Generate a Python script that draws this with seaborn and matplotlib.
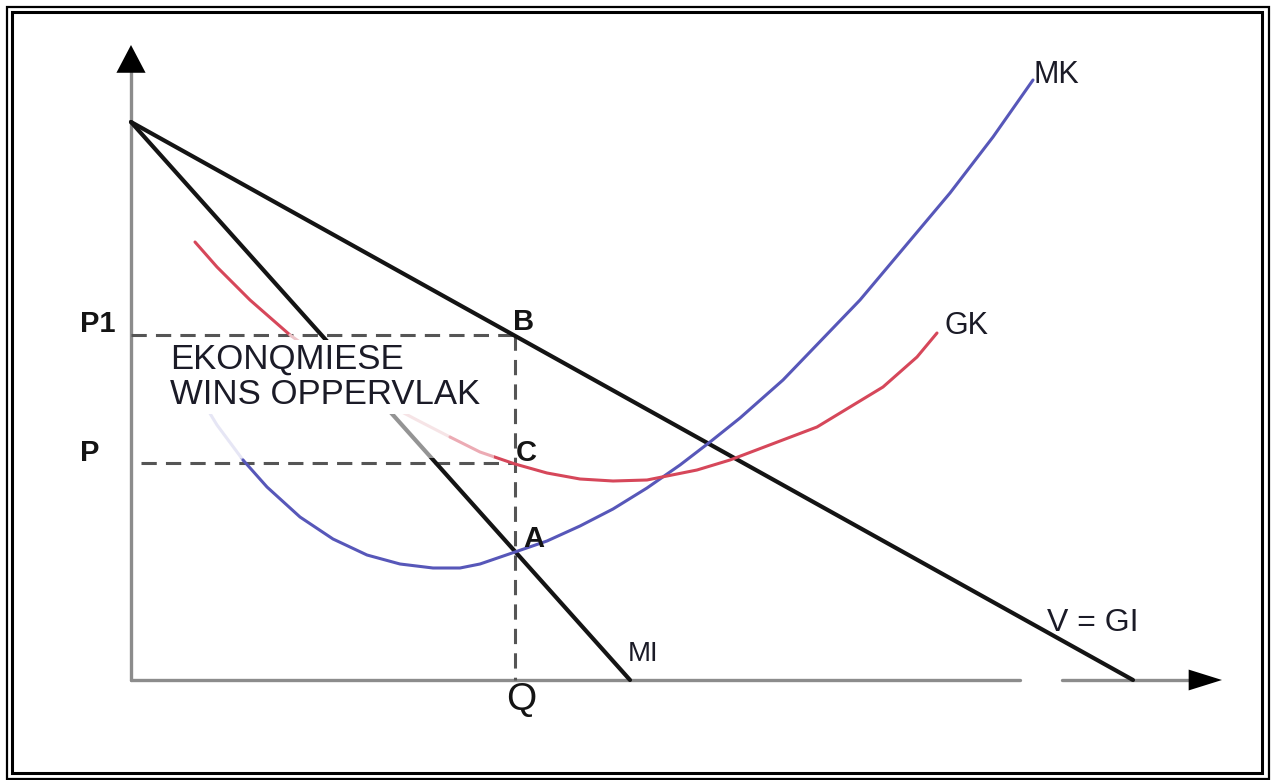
"""
Monopoly profit diagram: MK, GK, V = GI and MI with the economic profit area
"""

import matplotlib
matplotlib.use("Agg")
import matplotlib.pyplot as plt
from matplotlib.patches import Rectangle
import pandas as pd
import seaborn as sns

sns.set_style("white")
plt.rcParams['font.family'] = ['Liberation Sans', 'DejaVu Sans']

# Demand (V = GI) and marginal revenue (MI): straight lines from the price axis
DEMAND_Q = [0.0, 10.02]
DEMAND_P = [5.58, 0.0]
MI_Q = [0.0, 4.99]
MI_P = [5.58, 0.0]

# Marginal cost (MK)
MK_Q = [0.69, 0.86, 1.12, 1.36, 1.69, 2.02, 2.36, 2.69, 3.02, 3.29, 3.49, 3.84,
        4.16, 4.49, 4.82, 5.16, 5.49, 5.79, 6.09, 6.52, 7.29, 8.19, 8.62, 9.02]
MK_P = [2.83, 2.55, 2.20, 1.93, 1.63, 1.41, 1.25, 1.16, 1.12, 1.12, 1.16, 1.28,
        1.39, 1.54, 1.71, 1.92, 2.15, 2.38, 2.62, 3.00, 3.80, 4.87, 5.43, 6.00]

# Average cost (GK)
GK_Q = [0.64, 0.86, 1.19, 1.59, 2.52, 2.86, 3.19, 3.49, 3.84, 4.16, 4.49, 4.82,
        5.16, 5.66, 5.99, 6.86, 7.52, 7.86, 8.06]
GK_P = [4.38, 4.13, 3.80, 3.45, 2.78, 2.60, 2.43, 2.28, 2.16, 2.07, 2.01, 1.99,
        2.00, 2.10, 2.20, 2.53, 2.93, 3.23, 3.47]

# Equilibrium: output Q, price P1 (point B), average cost P (point C)
Q_STAR = 3.84
P1_PRICE = 3.45
P_PRICE = 2.17

# Axis extents
X_TIP = 10.91
Y_TIP = 6.35
X_GAP = (8.89, 9.31)

BLUE = '#5757b9'
BLUE_FADED = '#c9c9e9'
RED = '#d6475a'
RED_FADED = '#ecc4c8'
BLACK = '#141414'
AXIS_GREY = '#8c8c8c'
DASH_GREY = '#555555'
TEXT = '#1b1b27'


def curve(ax, q, p, color, lw, zorder=3):
    df = pd.DataFrame({'q': q, 'p': p})
    sns.lineplot(data=df, x='q', y='p', color=color, linewidth=lw,
                 sort=False, estimator=None, ax=ax, zorder=zorder,
                 solid_capstyle='round', solid_joinstyle='round')


def arrow_head(ax, tip, tail, length, width):
    ax.annotate('', xy=tip, xytext=tail,
                arrowprops=dict(arrowstyle=f'-|>,head_length={length},head_width={width}',
                                mutation_scale=1, lw=0, fc='black', ec='black',
                                shrinkA=0, shrinkB=0), zorder=6)


def main():
    fig = plt.figure(figsize=(12.71, 7.80), dpi=100)
    ax = fig.add_axes([0, 0, 1, 1])
    ax.set_xlim(-1.31, 11.40)
    ax.set_ylim(-1.00, 6.80)
    ax.axis('off')

    # Axes with arrows
    ax.plot([0, 0], [0, Y_TIP - 0.1], color=AXIS_GREY, lw=2.4, zorder=1)
    ax.plot([0, X_GAP[0]], [0, 0], color=AXIS_GREY, lw=2.4, zorder=1)
    ax.plot([X_GAP[1], X_TIP - 0.1], [0, 0], color=AXIS_GREY, lw=2.4, zorder=1)
    arrow_head(ax, (0, Y_TIP), (0, Y_TIP - 0.5), 20, 10.5)
    arrow_head(ax, (X_TIP, 0), (X_TIP - 0.5, 0), 24, 7.5)

    # Demand and marginal revenue
    curve(ax, DEMAND_Q, DEMAND_P, BLACK, 3.0)
    curve(ax, MI_Q, MI_P, BLACK, 3.0)

    # MK: faint start, then solid
    mk = pd.DataFrame({'q': MK_Q, 'p': MK_P})
    faint = mk[mk.q <= 1.12]
    solid = mk[mk.q >= 1.12]
    curve(ax, faint.q, faint.p, BLUE_FADED, 2.2)
    curve(ax, solid.q, solid.p, BLUE, 2.2)

    # GK: solid, faded under the label, solid again
    gk = pd.DataFrame({'q': GK_Q, 'p': GK_P})
    curve(ax, gk[gk.q <= 1.59].q, gk[gk.q <= 1.59].p, RED, 2.2)
    mid = gk[(gk.q >= 1.59) & (gk.q <= 3.19)]
    curve(ax, mid.q, mid.p, RED_FADED, 2.2)
    curve(ax, gk[gk.q >= 3.19].q, gk[gk.q >= 3.19].p, RED, 2.2)

    # Guide lines
    dash = (0, (5, 3))
    ax.plot([0, Q_STAR], [P1_PRICE, P1_PRICE], color=DASH_GREY, lw=2.2,
            linestyle=dash, zorder=2)
    ax.plot([0.1, Q_STAR], [P_PRICE, P_PRICE], color=DASH_GREY, lw=2.2,
            linestyle=dash, zorder=2)
    ax.plot([Q_STAR, Q_STAR], [P1_PRICE, 0], color=DASH_GREY, lw=2.2,
            linestyle=dash, zorder=2)

    # Washed-out band under the profit label
    ax.axhspan(2.22, 2.72, xmin=0.126, xmax=0.389, facecolor='white',
               edgecolor='none', alpha=0.55, zorder=4)
    ax.text(0.39, 3.37, 'EKONQMIESE\nWINS OPPERVLAK', fontsize=25, ha='left',
            va='top', linespacing=1.07, color=TEXT, zorder=5,
            bbox=dict(boxstyle='square,pad=0.08', fc='white', ec='none'))

    # Point and axis labels
    bold = dict(fontsize=21, fontweight='bold', color=BLACK, va='center',
                ha='left', zorder=7)
    ax.text(-0.51, 3.56, 'P1', **bold)
    ax.text(-0.51, 2.27, 'P', **bold)
    ax.text(Q_STAR - 0.02, 3.58, 'B', **bold)
    ax.text(Q_STAR + 0.01, 2.27, 'C', **bold)
    ax.text(Q_STAR + 0.08, 1.41, 'A', **bold)
    ax.text(Q_STAR + 0.06, -0.02, 'Q', fontsize=28, color=BLACK, ha='center',
            va='top', zorder=7)

    plain = dict(color=TEXT, va='center', ha='left', zorder=7)
    ax.text(9.02, 6.05, 'MK', fontsize=22, **plain)
    ax.text(8.14, 3.54, 'GK', fontsize=22, **plain)
    ax.text(4.97, 0.26, 'MI', fontsize=20, **plain)
    ax.text(9.16, 0.57, 'V = GI', fontsize=23, **plain)

    # Double frame
    W, H = 1271, 780
    for left, top, right, bottom, lw in [(7, 7, 1268.5, 778.5, 1.6),
                                         (11.5, 11.5, 1262, 773, 2.2)]:
        fig.patches.append(Rectangle((left / W, 1 - bottom / H),
                                     (right - left) / W, (bottom - top) / H,
                                     transform=fig.transFigure, fill=False,
                                     edgecolor='black', linewidth=lw, zorder=10))

    fig.savefig('out.png', dpi=100, facecolor='white')


if __name__ == "__main__":
    main()
